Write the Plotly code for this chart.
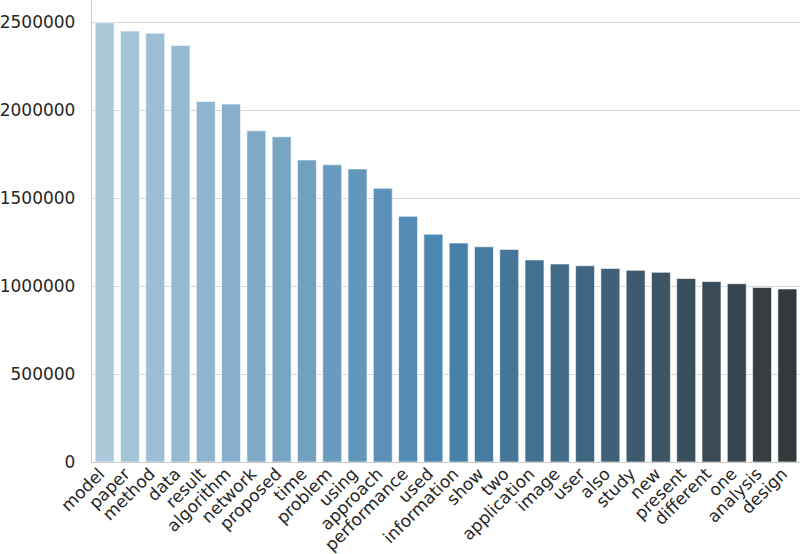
import colorsys
import numpy as np
import plotly.graph_objects as go

words = ["model", "paper", "method", "data", "result", "algorithm", "network",
         "proposed", "time", "problem", "using", "approach", "performance", "used",
         "information", "show", "two", "application", "image", "user", "also",
         "study", "new", "present", "different", "one", "analysis", "design"]
counts = [2496000, 2449000, 2436000, 2367000, 2049000, 2034000, 1882000,
          1848000, 1716000, 1689000, 1665000, 1555000, 1396000, 1294000,
          1244000, 1223000, 1208000, 1148000, 1125000, 1115000, 1100000,
          1089000, 1078000, 1043000, 1025000, 1013000, 992000, 983000]
y_ticks = [0, 500000, 1000000, 1500000, 2000000, 2500000]

# seaborn "Blues_d"-like palette, desaturated to 0.75 like barplot
def blues_palette(n):
    c1 = np.array([171.3, 207.7, 229.7]) / 255
    c2 = np.array([55.0, 135.0, 192.3]) / 255
    c3 = np.array([51, 51, 51]) / 255
    out = []
    for k in range(1, n + 1):
        t = k / (n + 1)
        if t <= 0.5:
            c = c1 + (c2 - c1) * (t / 0.5)
        else:
            c = c2 + (c3 - c2) * ((t - 0.5) / 0.5)
        h, l, s = colorsys.rgb_to_hls(*c)
        r, g, b = colorsys.hls_to_rgb(h, l, s * 0.75)
        out.append("rgb(%d,%d,%d)" % (round(r * 255), round(g * 255), round(b * 255)))
    return out

colors = blues_palette(len(words))

fig = go.Figure(go.Bar(
    x=words, y=counts,
    marker=dict(color=colors, line=dict(color="rgba(255,255,255,0.6)", width=1)),
))

fig.update_layout(
    width=802, height=554,
    margin=dict(l=92, r=2, t=0, b=92),
    plot_bgcolor="white", paper_bgcolor="white",
    bargap=0.25,
    showlegend=False,
    font=dict(family="DejaVu Sans", size=17, color="#262626"),
)
fig.update_xaxes(
    tickangle=-45, showgrid=False, showline=True, linecolor="#cccccc", linewidth=1.3,
    ticks="", range=[-0.5, len(words) - 0.5], tickfont=dict(size=17),
    automargin=False, ticklabelstandoff=-6, ticklabelshift=-5,
)
fig.update_yaxes(
    range=[0, 2625000], tickvals=y_ticks, ticktext=[str(v) for v in y_ticks],
    showgrid=True, gridcolor="#d9d9d9", gridwidth=1.3, zeroline=False,
    showline=True, linecolor="#cccccc", linewidth=1.3, ticks="",
    ticklabelstandoff=12, tickfont=dict(size=17), automargin=False,
)

# remove the page's default 8px body margin so the figure fills the window
fig.write_html("out.html", config={"displayModeBar": False},
               post_script="document.body.style.margin='0';")
